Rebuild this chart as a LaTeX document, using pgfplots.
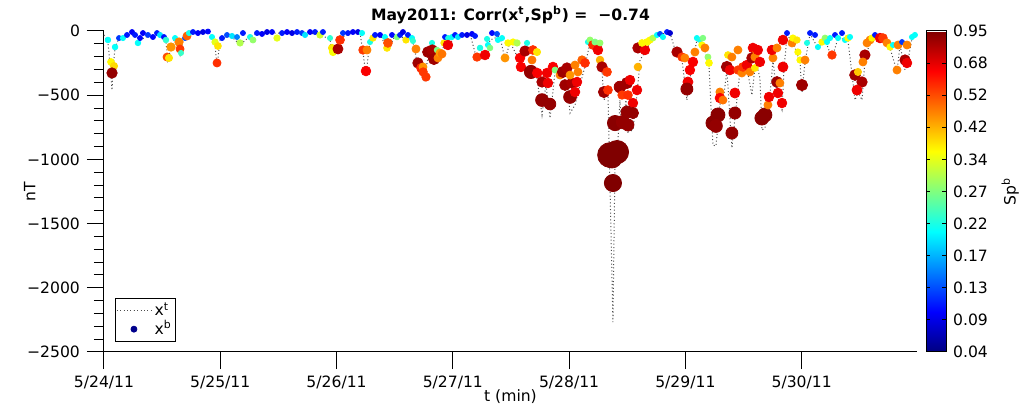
\documentclass[border=0pt]{standalone}
\usepackage{pgfplots}
\pgfplotsset{compat=1.18}
\usepackage{fontspec}
\setmainfont{DejaVu Sans}
\newcommand\fs{\fontsize{7.8}{9.4}\selectfont}
\definecolor{navy}{rgb}{0,0,0.55}

\begin{document}
\begin{tikzpicture}
\begin{axis}[
  at={(0,0)}, anchor=south west,
  scale only axis, width=406.5pt, height=160.5pt,
  xmin=0, xmax=6.992, ymin=-2500, ymax=0,
  axis x line*=bottom, axis y line*=left,
  axis line style={-, line width=0.5pt},
  tick align=outside,
  major tick length=8.5pt, minor tick length=5pt,
  tick style={line width=0.5pt, black},
  xtick={0,1,2,3,4,5,6},
  xticklabels={5/24/11,5/25/11,5/26/11,5/27/11,5/28/11,5/29/11,5/30/11},
  ytick={-2500,-2000,-1500,-1000,-500,0},
  yticklabels={−2500,−2000,−1500,−1000,−500,0},
  minor y tick num=4,
  tick label style={font=\fs},
  label style={font=\fs},
  xlabel={t (min)}, ylabel={nT},
  xlabel shift={-6.5pt}, ylabel shift={-11pt},
  title={May2011: Corr(x\textsuperscript{t},Sp\textsuperscript{b}) =\ \ −0.74},
  title style={font=\bfseries\fs, yshift=-6pt},
  colormap/jet, point meta min=0, point meta max=10,
  colorbar,
  colorbar style={
    at={(parent axis.north east)}, anchor=north west, xshift=-4pt,
    width=10pt,
    ytick={0,1,2,3,4,5,6,7,8,9,10},
    yticklabels={0.04,0.09,0.13,0.17,0.22,0.27,0.34,0.42,0.52,0.68,0.95},
    ylabel={Sp\textsuperscript{b}},
    tick label style={font=\fs},
    label style={font=\fs},
    major tick length=2pt,
    axis line style={line width=0.5pt},
  },
  clip=false,
  legend style={at={(axis description cs:0.0135,0.031)}, anchor=south west,
    draw=black, line width=0.4pt, font=\fs, inner sep=0.5pt, row sep=-2pt,
    nodes={inner sep=1.5pt}},
  legend cell align=left,
]
\addlegendimage{gray!60!black, dash pattern=on 0.5pt off 1.2pt, line width=0.5pt}
\addlegendentry{x\textsuperscript{t}}
\addlegendimage{only marks, mark=*, mark size=1.5pt, color=navy}
\addlegendentry{x\textsuperscript{b}}

% x^t : high-resolution trace, drawn dotted
\addplot[forget plot, gray!60!black, dash pattern=on 0.5pt off 1.2pt, line width=0.5pt]
table[x=t, y=v] {
t v
0.000 -31
0.034 -86
0.052 -265
0.069 -460
0.077 -304
0.095 -132
0.129 -55
0.198 -31
0.267 -31
0.310 -70
0.396 -31
0.482 -39
0.533 -86
0.550 -226
0.576 -132
0.611 -55
0.654 -187
0.679 -70
0.740 -16
0.826 -8
0.912 -16
0.955 -109
0.972 -273
0.998 -70
1.084 -31
1.170 -109
1.256 -39
1.342 -16
1.514 -16
1.686 -16
1.858 -23
1.944 -70
1.969 -187
2.012 -164
2.038 -55
2.116 -16
2.202 -16
2.227 -164
2.253 -343
2.288 -70
2.374 -31
2.442 -148
2.502 -39
2.588 -55
2.657 -86
2.700 -273
2.752 -382
2.786 -210
2.838 -241
2.890 -195
2.941 -70
2.958 -132
3.019 -31
3.148 -23
3.208 -226
3.277 -210
3.320 -70
3.405 -39
3.449 -226
3.492 -86
3.578 -241
3.621 -304
3.672 -351
3.724 -366
3.767 -654
3.801 -421
3.836 -678
3.879 -319
3.947 -351
3.990 -460
4.008 -639
4.051 -576
4.094 -421
4.137 -273
4.180 -86
4.248 -179
4.283 -304
4.300 -538
4.334 -475
4.377 -2267
4.395 -1005
4.412 -1020
4.437 -538
4.455 -771
4.489 -538
4.506 -787
4.549 -771
4.584 -499
4.610 -226
4.652 -164
4.712 -70
4.782 -23
4.868 -16
4.928 -195
4.971 -226
5.013 -538
5.056 -265
5.099 -70
5.168 -148
5.203 -273
5.237 -888
5.263 -896
5.297 -569
5.323 -561
5.357 -304
5.400 -911
5.426 -678
5.469 -319
5.529 -288
5.572 -499
5.606 -226
5.641 -366
5.658 -771
5.684 -756
5.719 -600
5.753 -226
5.788 -506
5.831 -615
5.848 -304
5.874 -31
5.925 -86
5.986 -241
6.003 -475
6.029 -241
6.072 -23
6.140 -132
6.201 -70
6.261 -210
6.313 -55
6.398 -70
6.459 -538
6.484 -475
6.519 -538
6.544 -226
6.588 -86
6.631 -31
6.699 -86
6.760 -132
6.820 -319
6.846 -109
6.889 -304
6.906 -273
6.949 -55
6.991 -39
};

% x^b : coloured by Sp^b (m = position on the colour scale), r = marker radius
\addplot[forget plot, scatter, only marks, mark=*,
  point meta=explicit,
  scatter/use mapped color={draw=mapped color, fill=mapped color},
  visualization depends on={\thisrow{r} \as \perpointmarksize},
  scatter/@pre marker code/.append style={/tikz/mark size=\perpointmarksize}]
table[x=t, y=v, meta=m] {
t v m r
0.034 -70 3.8 1.4
0.060 -241 6.3 1.7
0.086 -273 6.6 1.8
0.069 -327 9.8 2.6
0.095 -125 3.8 1.4
0.129 -55 1.8 1.25
0.163 -55 3.8 1.3
0.198 -31 1.5 1.25
0.241 -8 1.2 1.25
0.267 -31 1.5 1.25
0.292 -93 3.8 1.4
0.310 -55 1.3 1.25
0.335 -16 1.2 1.25
0.378 -31 1.8 1.25
0.421 -47 1.3 1.25
0.456 -16 1.5 1.25
0.482 -31 3.5 1.3
0.516 -47 1.4 1.25
0.533 -70 4.2 1.4
0.576 -125 7.3 2.1
0.542 -203 8.0 2.0
0.559 -210 6.5 1.8
0.611 -55 3.8 1.3
0.645 -86 7.5 2.1
0.654 -140 8.2 2.0
0.662 -171 4.3 1.3
0.697 -55 2.0 1.25
0.714 -39 7.8 2.0
0.731 -16 4.0 1.3
0.765 -8 1.5 1.25
0.808 -16 1.2 1.25
0.851 -8 1.0 1.25
0.894 -4 1.3 1.25
0.929 -47 3.8 1.3
0.955 -86 6.0 1.6
0.980 -117 6.5 1.7
0.972 -249 8.3 2.0
1.015 -55 1.5 1.25
1.058 -31 2.0 1.25
1.101 -39 3.5 1.3
1.144 -47 2.5 1.25
1.170 -93 5.5 1.6
1.195 -16 1.5 1.25
1.256 -47 4.0 1.3
1.281 -70 5.2 1.5
1.316 -16 1.5 1.25
1.359 -23 1.2 1.25
1.402 -8 1.0 1.25
1.445 -8 1.3 1.25
1.488 -55 6.0 1.6
1.531 -16 1.5 1.25
1.574 -8 1.2 1.25
1.617 -16 1.0 1.25
1.660 -8 1.5 1.25
1.703 -16 1.8 1.25
1.729 -31 3.5 1.3
1.772 -8 1.2 1.25
1.815 -8 1.5 1.25
1.858 -31 5.8 1.6
1.883 -8 1.5 1.25
1.944 -55 4.2 1.3
1.961 -132 6.5 1.8
1.969 -164 6.2 1.8
2.012 -140 9.6 2.5
2.030 -70 8.3 2.2
2.055 -16 1.8 1.25
2.098 -16 1.5 1.25
2.141 -8 1.2 1.25
2.184 -8 1.0 1.25
2.219 -16 3.8 1.3
2.227 -148 8.2 2.1
2.262 -148 7.5 2.0
2.253 -312 8.8 2.4
2.288 -86 4.0 1.3
2.313 -55 6.5 1.6
2.331 -31 1.5 1.25
2.374 -31 1.2 1.25
2.416 -47 3.8 1.3
2.434 -132 6.5 1.7
2.442 -93 8.0 2.2
2.477 -31 1.3 1.25
2.520 -47 5.0 1.4
2.546 -31 1.5 1.25
2.571 -8 1.0 1.25
2.597 -70 6.5 1.6
2.614 -31 1.5 1.25
2.649 -55 3.8 1.3
2.657 -78 4.2 1.3
2.683 -140 7.5 2.0
2.700 -249 9.7 2.6
2.726 -288 8.4 2.2
2.743 -280 7.3 2.0
2.745 -319 8.2 2.1
2.769 -358 8.2 2.1
2.786 -164 9.7 2.7
2.821 -93 4.0 1.3
2.823 -148 9.6 2.6
2.838 -218 9.7 2.8
2.864 -148 5.0 1.4
2.872 -210 7.5 2.0
2.890 -171 7.2 2.0
2.907 -179 7.6 2.0
2.924 -93 6.5 1.6
2.933 -47 1.5 1.25
2.960 -55 4.0 1.3
2.958 -109 8.9 2.4
2.993 -47 3.8 1.3
3.019 -31 1.5 1.25
3.044 -47 3.5 1.3
3.079 -31 1.5 1.25
3.122 -31 1.0 1.25
3.165 -23 1.2 1.25
3.191 -39 1.5 1.25
3.208 -203 8.2 2.1
3.234 -132 4.0 1.4
3.277 -187 8.9 2.4
3.294 -62 4.0 1.3
3.302 -109 3.8 1.3
3.320 -132 5.0 1.4
3.337 -16 1.3 1.25
3.380 -23 2.0 1.25
3.388 -70 3.8 1.3
3.423 -55 3.8 1.3
3.449 -210 7.3 2.0
3.474 -93 6.3 1.6
3.518 -86 6.3 1.6
3.552 -93 5.5 1.6
3.578 -210 8.8 2.4
3.586 -280 8.8 2.4
3.621 -156 9.6 2.6
3.638 -93 4.0 1.3
3.681 -226 7.6 2.0
3.689 -148 8.3 2.2
3.724 -164 6.5 1.8
3.672 -319 9.8 3.3
3.726 -327 8.8 2.4
3.767 -397 9.6 2.6
3.810 -327 8.9 2.4
3.818 -405 8.9 2.4
3.861 -280 8.8 2.4
3.879 -304 5.0 1.5
3.922 -343 7.5 2.0
3.947 -319 9.7 2.8
3.982 -288 9.6 2.6
3.965 -421 9.7 2.7
4.024 -405 9.6 2.6
4.068 -397 8.9 2.4
4.008 -343 7.3 2.0
4.051 -265 7.5 2.0
4.076 -319 7.5 2.0
4.111 -226 7.8 2.1
4.137 -249 8.3 2.2
3.767 -538 9.8 3.2
3.836 -569 9.8 2.9
4.008 -514 9.8 3.2
4.051 -475 8.9 2.4
4.162 -86 4.0 1.3
4.180 -70 5.2 1.5
4.205 -109 8.3 2.2
4.222 -86 5.0 1.5
4.248 -148 8.9 2.4
4.266 -93 5.2 1.5
4.266 -226 7.0 1.9
4.283 -280 9.6 2.6
4.326 -319 8.2 2.2
4.300 -475 9.7 2.8
4.334 -460 8.3 2.2
4.437 -436 9.7 2.9
4.498 -405 9.7 2.8
4.524 -382 8.9 2.4
4.584 -460 8.9 2.4
4.455 -499 8.2 2.1
4.506 -499 8.3 2.2
4.549 -561 8.9 2.4
4.498 -631 9.8 3.0
4.549 -639 9.8 2.8
4.395 -717 9.9 3.8
4.463 -709 9.8 3.3
4.506 -732 9.8 3.0
4.352 -966 10 6.2
4.412 -943 10 5.8
4.369 -989 10 5.0
4.377 -1184 10 4.3
4.592 -280 7.0 1.9
4.592 -132 9.6 2.6
4.652 -148 8.9 2.4
4.627 -93 6.3 1.7
4.670 -86 6.3 1.7
4.696 -70 6.3 1.6
4.721 -55 5.5 1.5
4.756 -31 3.8 1.3
4.782 -23 2.0 1.25
4.807 -47 3.8 1.3
4.842 -8 1.5 1.25
4.868 -16 0.8 1.25
4.928 -164 9.6 2.6
4.971 -203 8.2 2.1
4.996 -210 7.5 2.0
5.065 -241 8.8 2.4
5.082 -164 7.5 2.0
5.039 -304 8.8 2.4
5.022 -397 8.9 2.5
5.013 -452 9.8 3.0
5.099 -55 3.8 1.3
5.125 -70 4.0 1.3
5.151 -55 5.0 1.4
5.142 -109 6.3 1.6
5.168 -132 7.5 2.0
5.194 -203 5.2 1.5
5.203 -249 6.3 1.7
5.297 -475 7.5 2.0
5.297 -522 8.8 2.4
5.323 -538 7.6 2.0
5.357 -280 9.7 2.8
5.383 -304 8.9 2.4
5.366 -187 6.5 1.7
5.400 -203 7.5 2.0
5.452 -148 7.5 2.0
5.426 -483 8.9 2.5
5.280 -654 9.9 3.5
5.237 -717 9.9 3.5
5.263 -740 9.8 3.2
5.426 -639 9.8 3.0
5.400 -795 9.8 3.0
5.452 -304 8.2 2.1
5.486 -327 7.5 2.0
5.495 -280 8.2 2.2
5.529 -265 8.9 2.4
5.555 -319 7.5 2.0
5.581 -132 8.9 2.4
5.572 -210 9.6 2.6
5.598 -203 7.5 2.0
5.615 -164 7.5 2.0
5.598 -288 6.5 1.7
5.623 -148 8.9 2.4
5.641 -241 8.9 2.4
5.684 -654 9.9 3.5
5.658 -678 9.9 3.5
5.710 -576 7.5 2.0
5.719 -514 8.9 2.4
5.753 -210 7.5 2.0
5.744 -148 8.9 2.4
5.788 -397 9.7 2.7
5.813 -405 7.5 2.0
5.796 -483 8.9 2.4
5.831 -561 8.9 2.4
5.788 -132 7.5 2.0
5.839 -280 8.9 2.5
5.839 -70 8.9 2.4
5.874 -16 1.5 1.25
5.917 -93 7.5 2.0
5.925 -55 6.3 1.6
5.960 -70 6.5 1.6
5.968 -164 6.3 1.6
5.986 -226 6.3 1.6
6.003 -421 9.7 2.8
6.029 -226 7.5 2.0
6.046 -93 4.0 1.3
6.072 -16 1.5 1.25
6.115 -31 1.5 1.25
6.140 -125 3.8 1.3
6.175 -86 6.3 1.6
6.201 -55 5.2 1.5
6.218 -86 3.8 1.3
6.261 -187 8.2 2.1
6.244 -55 3.8 1.3
6.287 -31 1.5 1.25
6.313 -55 3.8 1.3
6.347 -16 1.5 1.25
6.373 -70 3.8 1.3
6.398 -55 6.3 1.6
6.416 -47 3.8 1.3
6.459 -343 9.7 2.7
6.484 -319 6.8 1.8
6.519 -397 9.6 2.6
6.476 -460 8.9 2.5
6.544 -187 9.6 2.6
6.527 -241 7.5 2.0
6.562 -93 7.5 2.0
6.588 -70 7.5 2.0
6.605 -55 6.3 1.6
6.631 -31 1.5 1.25
6.674 -55 8.9 2.4
6.699 -55 8.2 2.2
6.734 -93 7.5 2.0
6.760 -125 6.3 1.6
6.786 -109 3.8 1.3
6.829 -109 7.5 2.0
6.820 -304 7.5 2.0
6.863 -86 1.8 1.25
6.906 -109 7.5 2.0
6.889 -226 9.6 2.6
6.906 -249 8.9 2.4
6.949 -47 3.8 1.3
6.974 -31 3.8 1.3
};
\end{axis}
\pgfresetboundingbox
\path (-52pt,-29.5pt) rectangle (458.5pt,176pt);
\end{tikzpicture}
\end{document}
